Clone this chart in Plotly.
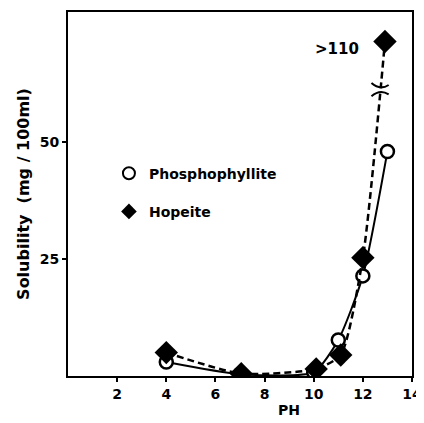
import plotly.graph_objects as go

# Data
ph_phos = [4.0, 7.0, 10.0, 11.0, 12.0, 13.0]
sol_phos = [3.0, 0.4, 0.8, 7.7, 21.4, 48.0]

ph_hope = [4.0, 7.05, 10.1, 11.1, 12.0, 12.9]
sol_hope = [5.0, 0.5, 1.5, 4.5, 25.3, 71.5]   # last point plotted as ">110" (axis break)

x_ticks = [2, 4, 6, 8, 10, 12, 14]
y_ticks = [25, 50]

FONT = "DejaVu Sans"

fig = go.Figure()

fig.add_trace(go.Scatter(
    x=ph_phos, y=sol_phos, mode="lines+markers",
    line=dict(color="black", width=2, shape="spline", smoothing=0.6),
    marker=dict(symbol="circle", size=13, color="white", line=dict(color="black", width=2.5)),
    showlegend=False,
))
fig.add_trace(go.Scatter(
    x=ph_hope, y=sol_hope, mode="lines+markers",
    line=dict(color="black", width=2.5, dash="7px,4px", shape="spline", smoothing=0.6),
    marker=dict(symbol="diamond", size=18, color="black"),
    showlegend=False,
))
# Legend entries (markers only)
fig.add_trace(go.Scatter(
    x=[None], y=[None], mode="markers", name="Phosphophyllite", legendgroup="a",
    marker=dict(symbol="circle", size=13, color="white", line=dict(color="black", width=2.5)),
))
fig.add_trace(go.Scatter(
    x=[None], y=[None], mode="markers", name="Hopeite", legendgroup="b",
    marker=dict(symbol="diamond", size=18, color="black"),
))

# ">110" label
fig.add_annotation(x=10.95, y=69.8, text=">110", showarrow=False,
                   font=dict(family=FONT, size=15, color="black", weight="bold"))
# x-axis title placed as in the original
fig.add_annotation(x=9.0, y=-0.093, xref="x", yref="paper", yanchor="middle", text="PH",
                   showarrow=False,
                   font=dict(family=FONT, size=14, color="black", weight="bold"))

# axis break mark on the Hopeite line
fig.add_shape(type="rect", xref="x", yref="y", x0=12.5, x1=12.9, y0=60.9, y1=61.5,
              fillcolor="white", line=dict(width=0), layer="above")
fig.add_shape(type="path", xref="x", yref="y",
              path="M 12.35,62.6 Q 12.7,61.0 13.05,62.2",
              line=dict(color="black", width=2))
fig.add_shape(type="path", xref="x", yref="y",
              path="M 12.35,59.8 Q 12.7,61.4 13.05,60.2",
              line=dict(color="black", width=2))

# The page body adds an 8px offset, so the figure is sized/margined to compensate
fig.update_layout(
    width=416, height=415,
    margin=dict(l=60, r=12, t=4, b=47),
    paper_bgcolor="white", plot_bgcolor="white",
    font=dict(family=FONT, size=14, color="black"),
    legend=dict(x=0.119, y=0.60, xanchor="left", yanchor="top",
                bgcolor="rgba(0,0,0,0)", itemsizing="constant",
                traceorder="grouped", tracegroupgap=17, itemwidth=30,
                font=dict(family=FONT, size=14, color="black", weight="bold")),
    xaxis=dict(range=[0, 14], tickvals=x_ticks, ticktext=[str(t) for t in x_ticks],
               showgrid=False, zeroline=False, showline=True, mirror=True,
               linecolor="black", linewidth=2, ticks="outside", ticklen=4,
               tickwidth=1.5, tickcolor="black", automargin=False,
               tickfont=dict(family=FONT, size=14, color="black", weight="bold")),
    yaxis=dict(range=[0, 77.8], tickvals=y_ticks, ticktext=[str(t) for t in y_ticks],
               showgrid=False, zeroline=False, showline=True, mirror=True,
               linecolor="black", linewidth=2, ticks="outside", ticklen=4,
               tickwidth=1.5, tickcolor="black", automargin=False,
               title=dict(text="Solubility  (mg / 100ml)", standoff=6,
                          font=dict(family=FONT, size=16, color="black", weight="bold")),
               tickfont=dict(family=FONT, size=14, color="black", weight="bold")),
)

fig.write_html("out.html")
